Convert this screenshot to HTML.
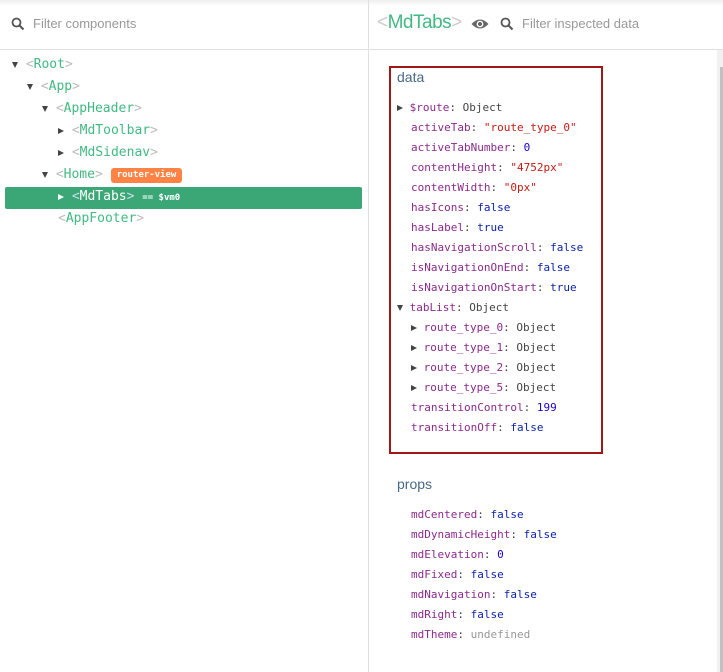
<!DOCTYPE html>
<html><head><meta charset="utf-8"><style>
*{margin:0;padding:0;box-sizing:border-box}
body{width:723px;height:672px;background:#fff;position:relative;overflow:hidden;font-family:"Liberation Sans",sans-serif}
.a{position:absolute;white-space:nowrap}
.m{font-family:"DejaVu Sans Mono","Liberation Mono",monospace}
.t{font-size:13px;color:#42b983;line-height:22px}
.t .b{color:#bbb}
.tri{display:inline-block;width:0;height:0;border-left:3.5px solid transparent;border-right:3.5px solid transparent;border-top:6px solid #444;vertical-align:middle}
.trr{display:inline-block;width:0;height:0;border-top:3.5px solid transparent;border-bottom:3.5px solid transparent;border-left:6px solid #444;vertical-align:middle}
.d{font-size:11px;line-height:20px;color:#444}
.k{color:#8b2a8b}.s{color:#c41a16}.n{color:#1c00cf}.bo{color:#0d22aa}.u{color:#999}
</style></head><body>
<div class="a" style="left:0;top:0;width:723px;height:6px;background:linear-gradient(#eee,#fff)"></div>
<div class="a" style="left:0;top:49px;width:723px;height:1px;background:#e0e0e0"></div>
<div class="a" style="left:368px;top:0;width:1px;height:672px;background:#e0e0e0"></div>
<div class="a" style="left:717px;top:50px;width:6px;height:622px;background:#f1f1f1"></div>
<div class="a" style="left:720px;top:67px;width:3px;height:605px;background:#c1c1c1"></div>
<svg class="a" style="left:11px;top:17px" width="14" height="14"><circle cx="5.5" cy="5.5" r="4" fill="none" stroke="#555" stroke-width="1.8"/><line x1="8.5" y1="8.5" x2="12.5" y2="12.5" stroke="#555" stroke-width="2"/></svg>
<div class="a" style="left:33px;top:16px;font-size:13px;color:#999">Filter components</div>
<div class="a" style="left:377px;top:12px;font-size:19px;color:#42b983;letter-spacing:-0.5px"><span style="color:#ccc">&lt;</span>MdTabs<span style="color:#ccc">&gt;</span></div>
<svg class="a" style="left:471px;top:17px" width="18" height="14"><path d="M0.5 7 Q9 -2 17.5 7 Q9 16 0.5 7Z" fill="#666"/><circle cx="9" cy="7" r="3.4" fill="#fff"/><circle cx="9" cy="7" r="2" fill="#666"/></svg>
<svg class="a" style="left:500px;top:17px" width="14" height="14"><circle cx="5.5" cy="5.5" r="4" fill="none" stroke="#555" stroke-width="1.8"/><line x1="8.5" y1="8.5" x2="12.5" y2="12.5" stroke="#555" stroke-width="2"/></svg>
<div class="a" style="left:522px;top:16px;font-size:13px;color:#999">Filter inspected data</div>

<div class="a" style="left:5px;top:187px;width:357px;height:22px;background:#3ba776;border-radius:2px"></div>
<div class="a t m" style="left:12px;top:54px"><span class="tri"></span> <span class="b">&lt;</span>Root<span class="b">&gt;</span></div>
<div class="a t m" style="left:27px;top:76px"><span class="tri"></span> <span class="b">&lt;</span>App<span class="b">&gt;</span></div>
<div class="a t m" style="left:42px;top:98px"><span class="tri"></span> <span class="b">&lt;</span>AppHeader<span class="b">&gt;</span></div>
<div class="a t m" style="left:58px;top:120px"><span class="trr"></span> <span class="b">&lt;</span>MdToolbar<span class="b">&gt;</span></div>
<div class="a t m" style="left:58px;top:142px"><span class="trr"></span> <span class="b">&lt;</span>MdSidenav<span class="b">&gt;</span></div>
<div class="a t m" style="left:42px;top:164px"><span class="tri"></span> <span class="b">&lt;</span>Home<span class="b">&gt;</span></div>
<div class="a m" style="left:111px;top:168px;height:15px;width:71px;background:#ff8344;border-radius:3px;color:#fff;font-size:9px;font-weight:bold;line-height:15px;text-align:center">router-view</div>
<div class="a t m" style="left:58px;top:186px;color:#fff"><span class="trr" style="border-left-color:#fff"></span> <span style="color:#cde">&lt;</span>MdTabs<span style="color:#cde">&gt;</span> <span style="font-size:9px;font-weight:bold">== $vm0</span></div>
<div class="a t m" style="left:58px;top:208px"><span class="b">&lt;</span>AppFooter<span class="b">&gt;</span></div>

<div class="a" style="left:389px;top:66px;width:214px;height:388px;border:2px solid #a01818"></div>
<div class="a" style="left:397px;top:69px;font-size:14px;color:#486887">data</div>
<div class="a d m" style="left:397px;top:98px"><span class="trr"></span> <span class="k">$route</span>: Object</div>
<div class="a d m" style="left:411px;top:118px;line-height:20px">
<span class="k">activeTab</span>: <span class="s">"route_type_0"</span><br>
<span class="k">activeTabNumber</span>: <span class="n">0</span><br>
<span class="k">contentHeight</span>: <span class="s">"4752px"</span><br>
<span class="k">contentWidth</span>: <span class="s">"0px"</span><br>
<span class="k">hasIcons</span>: <span class="bo">false</span><br>
<span class="k">hasLabel</span>: <span class="bo">true</span><br>
<span class="k">hasNavigationScroll</span>: <span class="bo">false</span><br>
<span class="k">isNavigationOnEnd</span>: <span class="bo">false</span><br>
<span class="k">isNavigationOnStart</span>: <span class="bo">true</span></div>
<div class="a d m" style="left:397px;top:298px"><span class="tri"></span> <span class="k">tabList</span>: Object</div>
<div class="a d m" style="left:411px;top:318px"><span class="trr"></span> <span class="k">route_type_0</span>: Object</div>
<div class="a d m" style="left:411px;top:338px"><span class="trr"></span> <span class="k">route_type_1</span>: Object</div>
<div class="a d m" style="left:411px;top:358px"><span class="trr"></span> <span class="k">route_type_2</span>: Object</div>
<div class="a d m" style="left:411px;top:378px"><span class="trr"></span> <span class="k">route_type_5</span>: Object</div>
<div class="a d m" style="left:411px;top:398px"><span class="k">transitionControl</span>: <span class="n">199</span><br><span class="k">transitionOff</span>: <span class="bo">false</span></div>

<div class="a" style="left:397px;top:476px;font-size:14px;color:#486887">props</div>
<div class="a d m" style="left:411px;top:505px">
<span class="k">mdCentered</span>: <span class="bo">false</span><br>
<span class="k">mdDynamicHeight</span>: <span class="bo">false</span><br>
<span class="k">mdElevation</span>: <span class="n">0</span><br>
<span class="k">mdFixed</span>: <span class="bo">false</span><br>
<span class="k">mdNavigation</span>: <span class="bo">false</span><br>
<span class="k">mdRight</span>: <span class="bo">false</span><br>
<span class="k">mdTheme</span>: <span class="u">undefined</span></div>
</body></html>
